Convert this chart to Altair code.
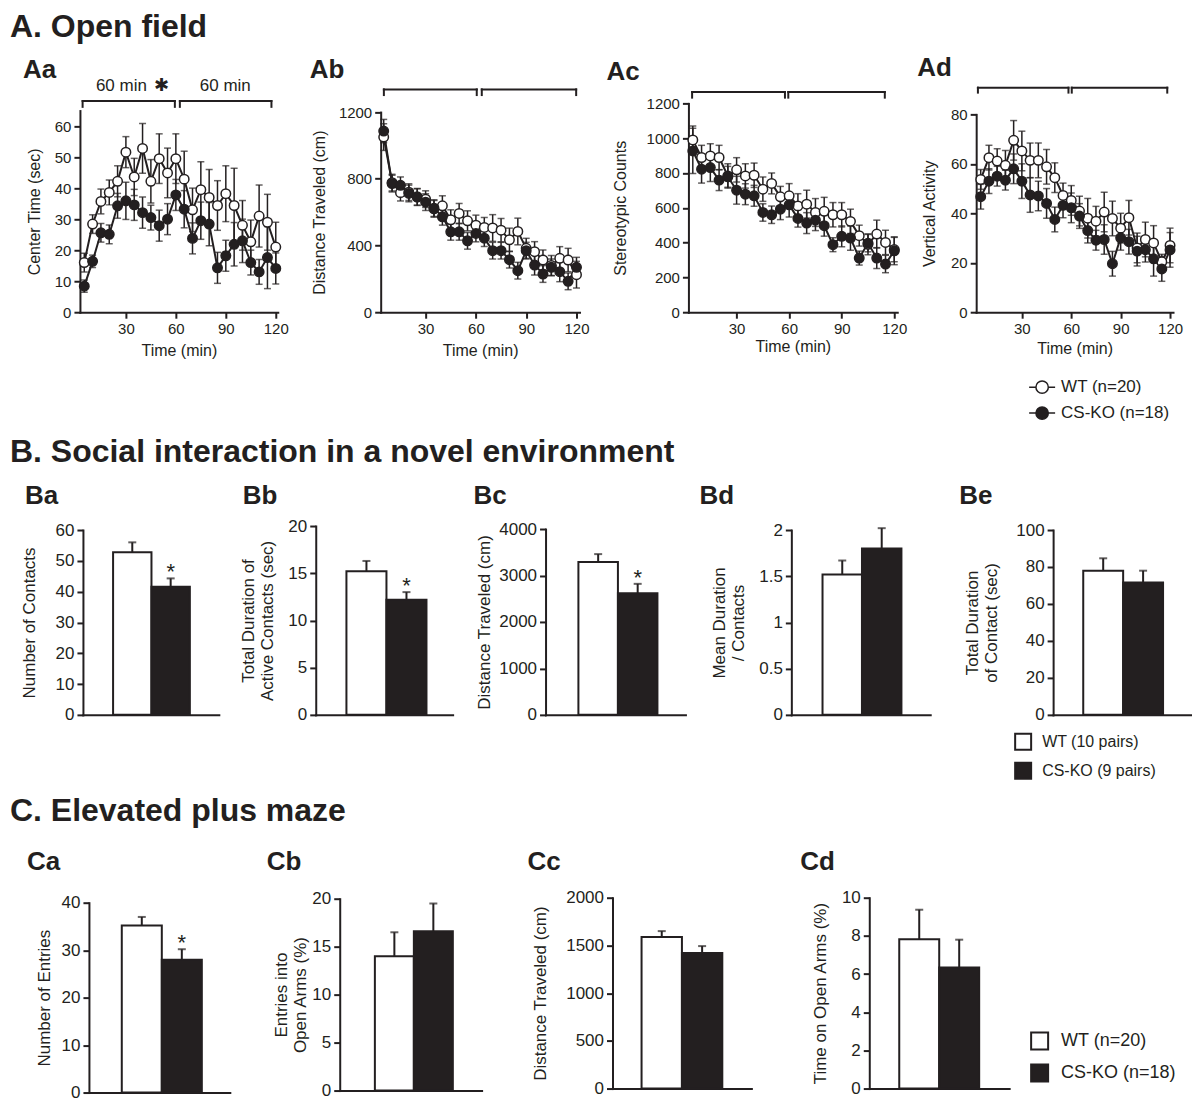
import altair as alt
import pandas as pd

FONT = "Liberation Sans"
INK = "#231f20"

# ---------------- data ----------------
minutes = [5, 10, 15, 20, 25, 30, 35, 40, 45, 50, 55, 60,
           65, 70, 75, 80, 85, 90, 95, 100, 105, 110, 115, 120]

aa_wt = [16, 28.4, 35.7, 38.6, 42.2, 51.6, 43.6, 52.8, 42.2, 49.5, 44.9, 49.5,
         42.9, 33, 39.5, 37, 34.4, 38.2, 34.4, 28, 22.7, 31, 29, 21]
aa_wt_err = [3, 3, 4, 4, 5, 5, 6, 8, 7, 8, 8, 8, 9, 7, 9, 9, 8, 9, 12, 8, 7, 10, 9, 8]
aa_ko = [8.4, 16.4, 25.6, 25.1, 34.3, 35.9, 34.6, 32.1, 30.5, 27.9, 30, 37.8,
         33.2, 23.8, 29.5, 28.4, 14.3, 18.2, 21.9, 23, 16, 13, 17.6, 14.1]
aa_ko_err = [2, 2, 3, 3, 4, 6, 5, 5, 4, 5, 5, 5, 6, 5, 6, 7, 5, 5, 7, 7, 4, 4, 10, 5]

ab_wt = [1050, 777, 717, 720, 690, 678, 620, 638, 554, 592, 548, 522,
         508, 505, 492, 434, 484, 383, 363, 313, 280, 323, 313, 225]
ab_wt_err = [80, 50, 50, 50, 50, 50, 50, 60, 60, 60, 60, 60,
             60, 80, 70, 70, 80, 60, 60, 60, 60, 70, 70, 80]
ab_ko = [1086, 771, 761, 712, 692, 660, 624, 572, 482, 482, 428, 472,
         444, 369, 369, 315, 249, 369, 283, 229, 269, 243, 185, 269]
ab_ko_err = [70, 50, 50, 50, 50, 50, 50, 50, 50, 50, 50, 50,
             50, 50, 50, 50, 50, 50, 60, 50, 50, 60, 50, 60]

ac_wt = [990, 889, 898, 889, 783, 818, 783, 787, 707, 740, 663, 669,
         611, 621, 573, 580, 560, 560, 522, 440, 390, 449, 401, 360]
ac_wt_err = [80, 70, 70, 70, 70, 70, 70, 70, 70, 60, 60, 70,
             70, 80, 80, 80, 70, 70, 70, 60, 60, 80, 70, 70]
ac_ko = [927, 822, 831, 759, 778, 701, 678, 669, 573, 560, 592, 617,
         539, 512, 529, 497, 388, 436, 426, 311, 397, 311, 277, 353]
ac_ko_err = [130, 80, 80, 60, 60, 80, 60, 60, 50, 50, 60, 70,
             50, 60, 60, 60, 40, 60, 70, 40, 50, 60, 50, 80]

ad_wt = [53.7, 62.5, 61.1, 59.4, 69.5, 65.2, 61.4, 61.4, 58.8, 54.4, 47.2, 45.2,
         40.9, 38, 36.8, 40.5, 37.9, 34, 38.2, 26, 29.4, 28, 20.4, 27]
ad_wt_err = [4, 5, 5, 6, 8, 8, 7, 7, 7, 6, 5, 6, 6, 8, 6, 8, 7, 6, 7, 6, 7, 7, 3, 7]
ad_ko = [46.7, 53, 55, 53.4, 58, 53, 47.4, 47, 44, 37.5, 43.2, 42.2,
         38.9, 33, 29.1, 29.4, 19.6, 30.1, 28.5, 24.7, 25.3, 21.6, 17.5, 25.2]
ad_ko_err = [5, 5, 4, 4, 6, 7, 7, 6, 6, 5, 5, 6, 5, 5, 4, 6, 5, 5, 5, 6, 5, 7, 5, 7]

groups = ["WT", "CS-KO"]
legend_a = ["WT (n=20)", "CS-KO (n=18)"]
legend_b = ["WT (10 pairs)", "CS-KO (9 pairs)"]
legend_c = ["WT (n=20)", "CS-KO (n=18)"]

ba_mean, ba_err = [52.8, 41.6], [3.2, 2.7]
bb_mean, bb_err = [15.2, 12.2], [1.1, 0.8]
bc_mean, bc_err = [3290, 2620], [170, 200]
bd_mean, bd_err = [1.52, 1.80], [0.15, 0.22]
be_mean, be_err = [77.9, 71.6], [6.8, 6.4]
ca_mean, ca_err = [35.2, 28.0], [1.8, 2.2]
cb_mean, cb_err = [14.0, 16.6], [2.5, 2.9]
cc_mean, cc_err = [1588, 1420], [62, 73]
cd_mean, cd_err = [7.82, 6.34], [1.55, 1.46]

# ---------------- helpers ----------------
LEG_SYMBOL = ("M-1.3,0L-0.62,0M0.62,0L1.3,0M-0.62,0"
              "A0.62,0.62,0,1,1,0.62,0A0.62,0.62,0,1,1,-0.62,0Z")


def ttl(text, size, offset, dx=0):
    return alt.TitleParams(text=text, anchor="start", frame="group", offset=offset,
                           dx=dx, fontSize=size, fontWeight="bold", font=FONT,
                           color=INK, baseline="alphabetic", orient="top")


def spacer(w, title=None):
    ch = alt.Chart(alt.Data(values=[{"v": 0}])).mark_point(size=0, opacity=0).encode(
        x=alt.value(0), y=alt.value(0)).properties(width=w, height=10)
    if title is not None:
        ch = ch.properties(title=title)
    return ch


def line_panel(wt, wt_e, ko, ko_e, width, xdom, ydom, yrange, yticks, ytitle,
               ytp, xtp, spans, ybr, ytk, notes=None, stars=None, legend=None):
    rows = []
    for g, lab, m, e in ((groups[0], legend_a[0], wt, wt_e),
                         (groups[1], legend_a[1], ko, ko_e)):
        for ti, mi, ei in zip(minutes, m, e):
            rows.append({"t": ti, "g": g, "lab": lab, "m": mi,
                         "lo": mi - ei, "hi": mi + ei})
    df = pd.DataFrame(rows)
    xs = alt.Scale(domain=xdom, nice=False, zero=False)
    ys = alt.Scale(domain=ydom, range=yrange, nice=False, zero=False)
    xa = alt.Axis(values=[30, 60, 90, 120], format="d", title="Time (min)",
                  titlePadding=xtp, labelFontSize=15, titleFontSize=16,
                  labelFlush=False, labelOverlap=False)
    ya = alt.Axis(values=yticks, format="d", title=ytitle, titlePadding=ytp,
                  labelFontSize=15, titleFontSize=16, labelFlush=False,
                  labelOverlap=False)

    def X(f):
        return alt.X(f"{f}:Q", scale=xs, axis=xa)

    def Y(f):
        return alt.Y(f"{f}:Q", scale=ys, axis=ya)

    base = alt.Chart(df)
    err = base.mark_rule(color=INK, strokeWidth=1.5).encode(
        x=X("t"), y=Y("lo"), y2="hi:Q")
    cap_lo = base.mark_tick(orient="horizontal", size=7, thickness=1.5,
                            color=INK).encode(x=X("t"), y=Y("lo"))
    cap_hi = base.mark_tick(orient="horizontal", size=7, thickness=1.5,
                            color=INK).encode(x=X("t"), y=Y("hi"))
    line = base.mark_line(color=INK, strokeWidth=2).encode(
        x=X("t"), y=Y("m"), detail="g:N")
    pts = base.mark_point(shape="circle", filled=True, size=90, stroke=INK,
                          strokeWidth=1.5, opacity=1).encode(
        x=X("t"), y=Y("m"),
        fill=alt.Fill("lab:N", scale=alt.Scale(domain=legend_a,
                                               range=["white", INK]),
                      legend=legend))
    seg = []
    for a, b in spans:
        seg.append({"x1": a, "x2": b, "y1": ybr, "y2": ybr})
        seg.append({"x1": a, "x2": a, "y1": ybr, "y2": ytk})
        seg.append({"x1": b, "x2": b, "y1": ybr, "y2": ytk})
    br = alt.Chart(pd.DataFrame(seg)).mark_rule(
        color=INK, strokeWidth=2, strokeCap="square").encode(
        x=X("x1"), x2="x2:Q", y=Y("y1"), y2="y2:Q")
    layers = [err, cap_lo, cap_hi, line, pts, br]
    if notes is not None:
        layers.append(alt.Chart(pd.DataFrame(notes)).mark_text(
            font=FONT, fontSize=17, align="center", baseline="alphabetic",
            color=INK).encode(x=X("x"), y=Y("y"), text="s:N"))
    if stars is not None:
        layers.append(alt.Chart(pd.DataFrame(stars)).mark_text(
            fontSize=18, align="center", baseline="alphabetic",
            color=INK).encode(x=X("x"), y=Y("y"), text="s:N"))
    return alt.layer(*layers).properties(width=width, height=201)


def bar_panel(means, errs, width, height, ydom, yrange, yticks, ytitle, ytp,
              po, al, star=False, labels=None, legend=None, fmt="d"):
    labs = labels if labels is not None else groups
    df = pd.DataFrame({"g": groups, "lab": labs, "m": means,
                       "hi": [m + e for m, e in zip(means, errs)]})
    xs = alt.Scale(domain=groups, paddingInner=0, paddingOuter=po, align=al)
    xa = alt.Axis(labels=False, ticks=False, title=None)
    ys = alt.Scale(domain=ydom, range=yrange, nice=False, zero=False)
    ya = alt.Axis(values=yticks, format=fmt, title=ytitle, titlePadding=ytp,
                  labelFontSize=17, titleFontSize=17, titleLineHeight=19,
                  labelFlush=False, labelOverlap=False)

    def Y(f):
        return alt.Y(f"{f}:Q", scale=ys, axis=ya)

    X = alt.X("g:N", scale=xs, axis=xa)
    base = alt.Chart(df)
    bars = base.mark_bar(stroke=INK, strokeWidth=2).encode(
        x=X, y=Y("m"),
        fill=alt.Fill("lab:N", scale=alt.Scale(domain=labs, range=["white", INK]),
                      legend=legend))
    rule = base.mark_rule(color=INK, strokeWidth=2).encode(x=X, y=Y("m"), y2="hi:Q")
    cap = base.mark_tick(orient="horizontal", size=8, thickness=2,
                         color=INK).encode(x=X, y=Y("hi"))
    layers = [bars, rule, cap]
    if star:
        layers.append(base.transform_filter(alt.datum.g == "CS-KO").mark_text(
            text="*", font=FONT, fontSize=22, align="center",
            baseline="alphabetic", dy=1, color=INK).encode(x=X, y=Y("hi")))
    return alt.layer(*layers).properties(width=width, height=height)


def row(cells):
    return alt.HConcatChart(hconcat=cells, spacing=0, bounds="flush").resolve_scale(
        x="independent", y="independent", fill="independent")


SEC = 32   # section title size
LAB = 26   # panel label size

# ---------------- row A ----------------
Aa = line_panel(aa_wt, aa_wt_err, aa_ko, aa_ko_err, 198, [2.4, 121.2], [0, 65],
                [201, -0.8], [0, 10, 20, 30, 40, 50, 60], "Center Time (sec)",
                12, 6, [(4, 59.4), (62.4, 117.4)], 68.05, 66.2,
                notes=[{"x": 27.3, "y": 71.2, "s": "60 min"},
                       {"x": 89.7, "y": 71.2, "s": "60 min"}],
                stars=[{"x": 51.3, "y": 71.2, "s": "\u2731"}])
Ab = line_panel(ab_wt, ab_wt_err, ab_ko, ab_ko_err, 199, [3.2, 121.8], [0, 1200],
                [201, 0.7], [0, 400, 800, 1200], "Distance Traveled (cm)",
                11, 6, [(5.1, 60.5), (63.5, 119.8)], 1336, 1302)
Ac = line_panel(ac_wt, ac_wt_err, ac_ko, ac_ko_err, 209, [2.5, 121.7], [0, 1200],
                [201, -8], [0, 200, 400, 600, 800, 1000, 1200], "Stereotypic Counts",
                18, 2, [(4.6, 57.6), (59.5, 114.6)], 1265, 1233)
Ad = line_panel(ad_wt, ad_wt_err, ad_ko, ad_ko_err, 197, [2.25, 121.8], [0, 80],
                [201, 3], [0, 20, 40, 60, 80], "Vertical Activity",
                13, 4, [(3.3, 58.3), (60.3, 118.3)], 90.8, 88.8,
                legend=alt.Legend(orient="none", legendX=55, legendY=265, title=None,
                                  symbolType=LEG_SYMBOL, symbolSize=400,
                                  symbolStrokeColor=INK, symbolStrokeWidth=1.5,
                                  labelFontSize=17, labelFont=FONT, labelColor=INK,
                                  labelOffset=8, rowPadding=5, padding=0))

rowA = row([spacer(13, ttl("A. Open field", SEC, 42.5)),
            spacer(57, ttl("Aa", LAB, 7.5, 0)), Aa,
            spacer(103, ttl("Ab", LAB, 7.5, 32)), Ab,
            spacer(109, ttl("Ac", LAB, 5.5, 27)), Ac,
            spacer(79, ttl("Ad", LAB, 9.5, 20)), Ad])

# ---------------- row B ----------------
Ba = bar_panel(ba_mean, ba_err, 136, 218, [0, 60], [218, 33],
               [0, 10, 20, 30, 40, 50, 60], "Number of Contacts", 17, 0.77, 0.51,
               star=True)
Bb = bar_panel(bb_mean, bb_err, 137, 218, [0, 20], [218, 29], [0, 5, 10, 15, 20],
               ["Total Duration of", "Active Contacts (sec)"], 11, 0.71, 0.54,
               star=True)
Bc = bar_panel(bc_mean, bc_err, 140, 218, [0, 4000], [218, 32],
               [0, 1000, 2000, 3000, 4000], "Distance Traveled (cm)", 5, 0.77, 0.54,
               star=True)
Bd = bar_panel(bd_mean, bd_err, 139, 218, [0, 2], [218, 33], [0, 0.5, 1, 1.5, 2],
               ["Mean Duration", "/ Contacts"], 11, 0.76, 0.52, fmt="~g")
Be = bar_panel(be_mean, be_err, 139, 218, [0, 100], [218, 33],
               [0, 20, 40, 60, 80, 100], ["Total Duration", "of Contact (sec)"],
               15, 0.74, 0.51, labels=legend_b,
               legend=alt.Legend(orient="none", legendX=-39, legendY=236, title=None,
                                 symbolType="square", symbolSize=256,
                                 symbolStrokeColor=INK, symbolStrokeWidth=2,
                                 labelFontSize=16, labelFont=FONT, labelColor=INK,
                                 labelOffset=10, rowPadding=5, padding=0))

rowB = row([spacer(13, ttl("B. Social interaction in a novel environment", SEC, 3.5)),
            spacer(60, ttl("Ba", LAB, -32.5, 2)), Ba,
            spacer(97, ttl("Bb", LAB, -32.5, 24)), Bb,
            spacer(93, ttl("Bc", LAB, -32.5, 21)), Bc,
            spacer(106, ttl("Bd", LAB, -32.5, 14)), Bd,
            spacer(123, ttl("Be", LAB, -32.5, 29)), Be])

# ---------------- row C ----------------
Ca = bar_panel(ca_mean, ca_err, 141, 194, [0, 40], [194, 4], [0, 10, 20, 30, 40],
               "Number of Entries", 8, 0.76, 0.54, star=True)
Cb = bar_panel(cb_mean, cb_err, 142, 192, [0, 20], [192, 0], [0, 5, 10, 15, 20],
               ["Entries into", "Open Arms (%)"], 2, 0.82, 0.55)
Cc = bar_panel(cc_mean, cc_err, 139, 190, [0, 2000], [190, -1],
               [0, 500, 1000, 1500, 2000], "Distance Traveled (cm)", 16, 0.72, 0.5)
Cd = bar_panel(cd_mean, cd_err, 140, 190, [0, 10], [190, -1], [0, 2, 4, 6, 8, 10],
               "Time on Open Arms (%)", 12, 0.75, 0.5, labels=legend_c,
               legend=alt.Legend(orient="none", legendX=161, legendY=133, title=None,
                                 symbolType="square", symbolSize=289,
                                 symbolStrokeColor=INK, symbolStrokeWidth=2,
                                 labelFontSize=18, labelFont=FONT, labelColor=INK,
                                 labelOffset=12, rowPadding=7, padding=0))

rowC = row([spacer(13, ttl("C. Elevated plus maze", SEC, 45.5)),
            spacer(66, ttl("Ca", LAB, 2.5, 4)), Ca,
            spacer(110, ttl("Cb", LAB, 2.5, 37)), Cb,
            spacer(131, ttl("Cc", LAB, 2.5, 46)), Cc,
            spacer(118, ttl("Cd", LAB, 2.5, 49)), Cd])

chart = alt.VConcatChart(
    vconcat=[rowA, rowB, rowC], spacing=12,
    padding={"left": 2, "top": 2, "right": 0, "bottom": 0},
).resolve_scale(x="independent", y="independent", fill="independent").configure(
    font=FONT, background="white"
).configure_view(stroke=None).configure_axis(
    domainColor=INK, domainWidth=2, domainCap="square", tickColor=INK, tickWidth=2,
    tickSize=6, labelPadding=3, labelColor=INK, titleColor=INK,
    titleFontWeight="normal", labelFont=FONT, titleFont=FONT, grid=False
)

chart.save("out.html", embed_options={"renderer": "svg", "actions": False})
